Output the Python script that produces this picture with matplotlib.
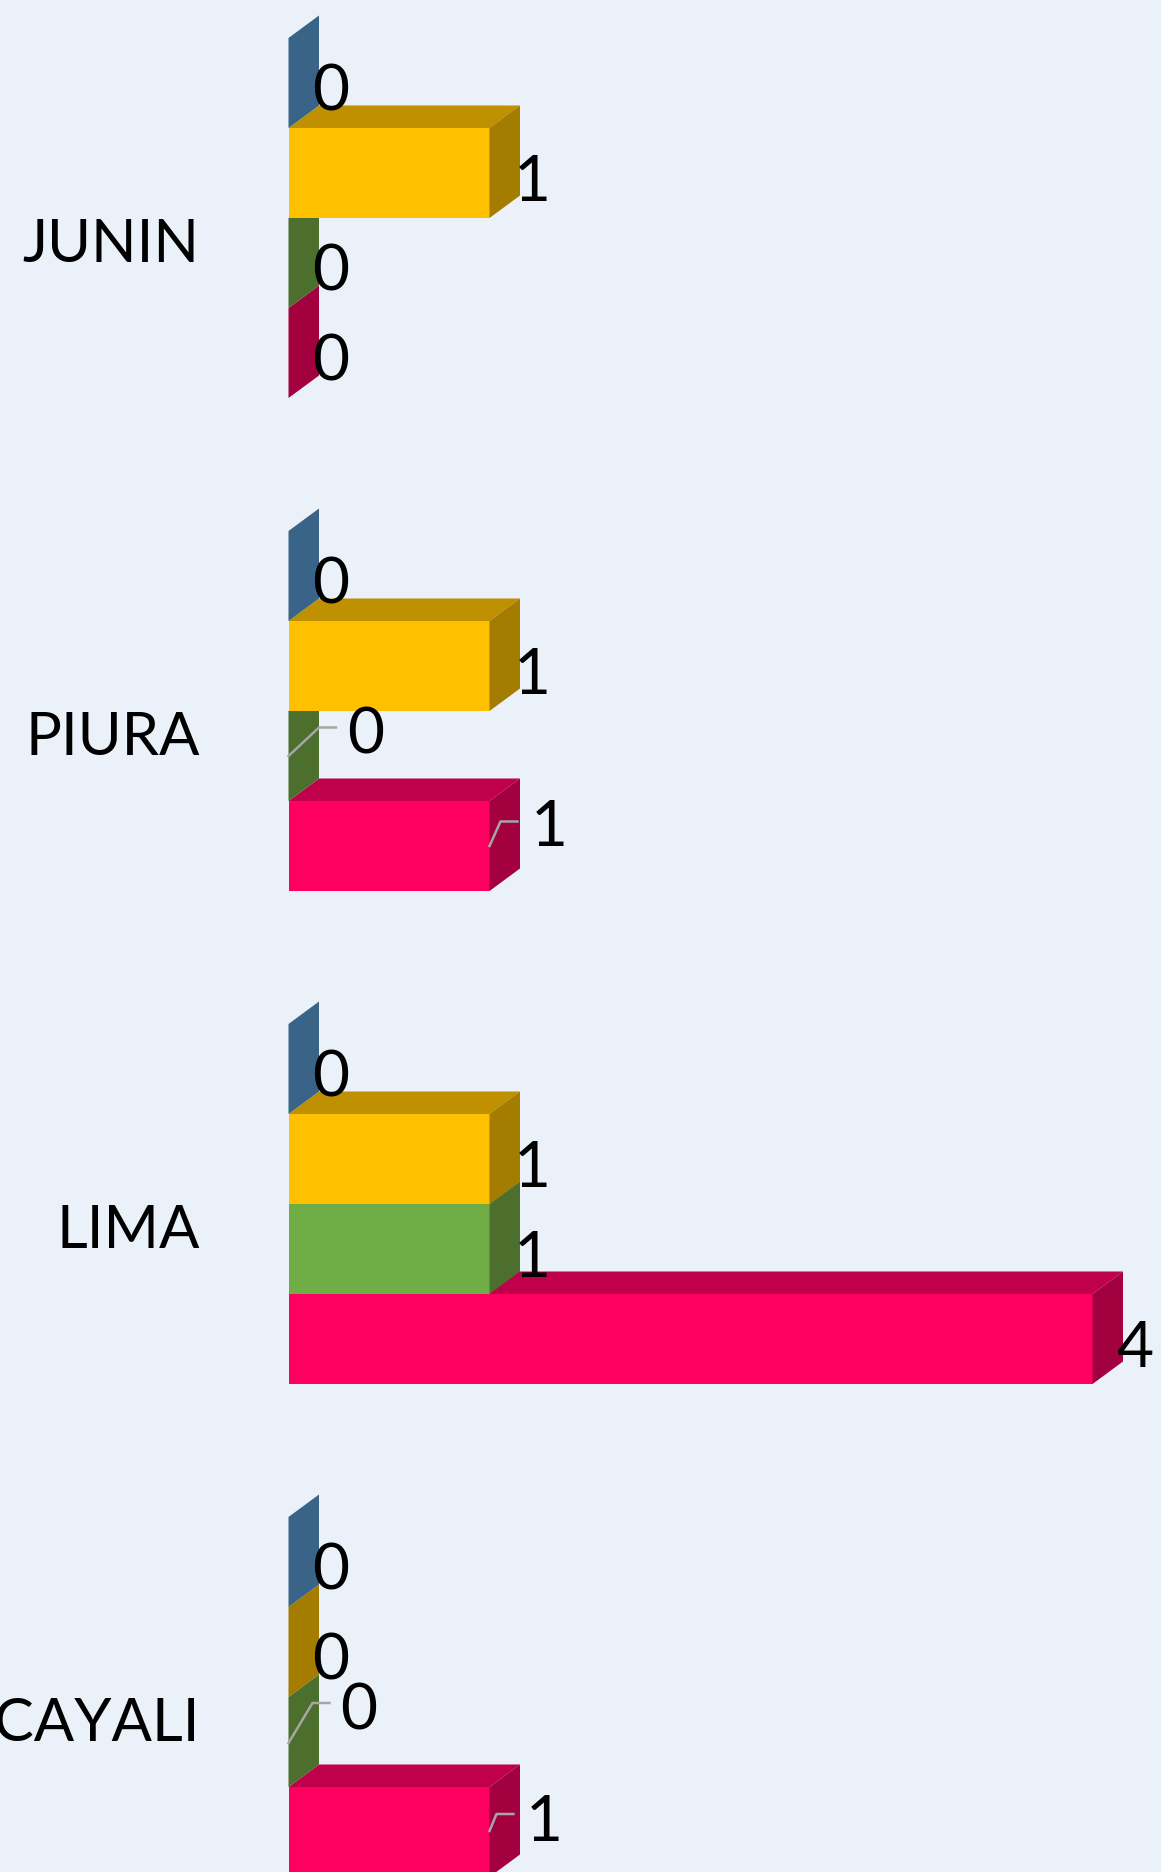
import matplotlib
matplotlib.use("Agg")
import matplotlib.pyplot as plt
from matplotlib.patches import Polygon

plt.rcParams["font.family"] = ["Lato", "DejaVu Sans"]

categories = ["JUNIN", "PIURA", "LIMA", "UCAYALI"]
series_blue = [0, 0, 0, 0]
series_yellow = [1, 1, 1, 0]
series_green = [0, 0, 1, 0]
series_red = [0, 1, 4, 1]

# front, top, side
colors = [
    ("#5B9BD5", "#44749F", "#3A6487"),
    ("#FFC000", "#BF9000", "#A37C00"),
    ("#70AD47", "#54823A", "#4C6F2D"),
    ("#FF0060", "#C0004A", "#A3003F"),
]
bg = "#EAF1F9"

# pixel scales of the picture
unit_px = 201.0
group_px = 493.0
fig_w, fig_h = 1161, 1872
x0_px, y0_px = 288.5, 218.0

px_x = 1 / unit_px
px_y = 1 / group_px
bar_h = 90 * px_y
depth_x = 30.5 * px_x
depth_y = 22.5 * px_y
text_dy = 6

# labels moved by hand, with a leader line, all in px from the bar end and bar centre
# (category, series) -> label, start, elbow
moved = {
    (1, 2): ((77.5, -26.5), (0, 0), (30.5, -28.5)),
    (1, 3): ((59.5, -23.5), (0, 0), (11, -24.5)),
    (3, 2): ((70.5, -36), (0, 1), (24, -39)),
    (3, 3): ((54.5, -15), (0, -1), (7, -18)),
}

fig = plt.figure(figsize=(fig_w / 100, fig_h / 100), dpi=100, facecolor=bg)
ax = fig.add_axes([0, 0, 1, 1], facecolor=bg)
ax.set_xlim(-x0_px / unit_px, (fig_w - x0_px) / unit_px)
ax.set_ylim((fig_h - y0_px) / group_px, -y0_px / group_px)
ax.axis("off")

all_series = [series_blue, series_yellow, series_green, series_red]

# lowest series first so the bar above hides its top face
for j in range(3, -1, -1):
    values = all_series[j]
    front, top, side = colors[j]
    for i, v in enumerate(values):
        y = i + (j - 1.5) * bar_h
        y1 = y - bar_h / 2
        y2 = y + bar_h / 2
        ax.barh(y, v, height=bar_h, color=front, linewidth=0, zorder=10 - j)
        ax.add_patch(Polygon(
            [(0, y1), (v, y1), (v + depth_x, y1 - depth_y), (depth_x, y1 - depth_y)],
            facecolor=top, linewidth=0, zorder=10 - j))
        ax.add_patch(Polygon(
            [(v, y1), (v + depth_x, y1 - depth_y), (v + depth_x, y2 - depth_y), (v, y2)],
            facecolor=side, linewidth=0, zorder=10 - j))

for j, values in enumerate(all_series):
    for i, v in enumerate(values):
        y = i + (j - 1.5) * bar_h
        lx = v + 42.5 * px_x
        ly = y + 4 * px_y
        if (i, j) in moved:
            label, start, elbow = moved[(i, j)]
            lx = v + label[0] * px_x
            ly = y + label[1] * px_y
            xs = [v + start[0] * px_x, v + elbow[0] * px_x, v + (elbow[0] + 17) * px_x]
            ys = [y + start[1] * px_y, y + elbow[1] * px_y, y + elbow[1] * px_y]
            ax.plot(xs, ys, color="#A6A6A6", linewidth=1.8, zorder=20)
        ax.text(lx, ly + text_dy * px_y, str(v), fontsize=46, color="black",
                ha="center", va="center", zorder=21)

for i, cat in enumerate(categories):
    ax.annotate(cat, (0, i + (21 + text_dy) * px_y), xytext=(-64, 0), textcoords="offset points",
                ha="right", va="center", fontsize=43, color="black", zorder=21)

fig.savefig("out.png", dpi=100, facecolor=bg)
